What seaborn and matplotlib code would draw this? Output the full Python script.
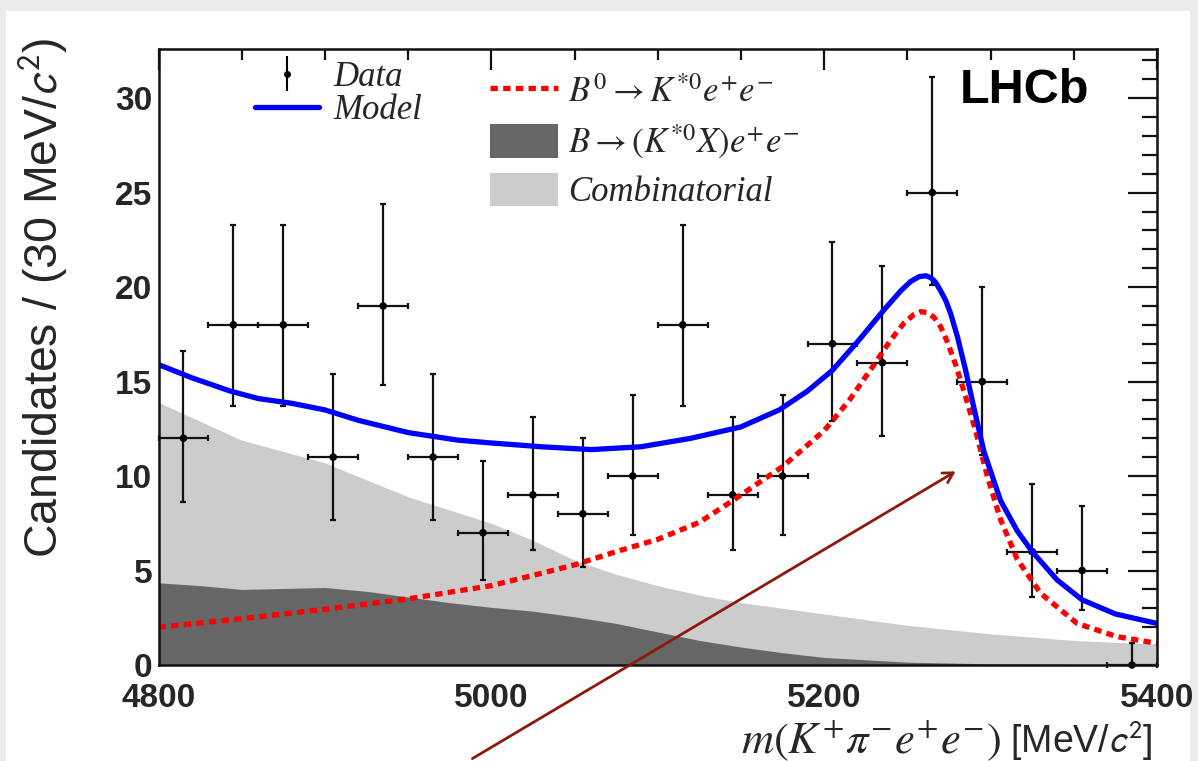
import numpy as np
import pandas as pd
import matplotlib
matplotlib.use("Agg")
import matplotlib.pyplot as plt
import seaborn as sns
from matplotlib.lines import Line2D
from matplotlib.patches import Patch, Rectangle, FancyArrowPatch
from matplotlib.ticker import MultipleLocator

# ---------------- data ----------------
bin_centers = [4815, 4845, 4875, 4905, 4935, 4965, 4995, 5025, 5055, 5085,
               5115, 5145, 5175, 5205, 5235, 5265, 5295, 5325, 5355, 5385]
counts = [12, 18, 18, 11, 19, 11, 7, 9, 8, 10, 18, 9, 10, 17, 16, 25, 15, 6, 5, 0]
err_lo = [3.4, 4.3, 4.3, 3.3, 4.2, 3.3, 2.5, 2.9, 2.8, 3.1,
          4.3, 2.9, 3.1, 4.1, 3.9, 4.9, 3.9, 2.4, 2.1, 0.0]
err_hi = [4.6, 5.3, 5.3, 4.4, 5.4, 4.4, 3.8, 4.1, 4.0, 4.3,
          5.3, 4.1, 4.3, 5.4, 5.1, 6.1, 5.0, 3.6, 3.4, 1.15]
bin_half = 15

model_x = [4800, 4820, 4843, 4860, 4880, 4900, 4920, 4950, 4980, 5000, 5030, 5060,
           5090, 5120, 5150, 5173, 5190, 5205, 5220, 5236, 5246, 5252, 5257, 5261,
           5264, 5267, 5270, 5273, 5276, 5280, 5285, 5290, 5296, 5306, 5316, 5325,
           5340, 5355, 5375, 5400]
model_y = [15.9, 15.2, 14.5, 14.1, 13.85, 13.5, 12.95, 12.3, 11.9, 11.75, 11.55, 11.4,
           11.55, 12.0, 12.6, 13.5, 14.5, 15.6, 17.1, 18.8, 19.8, 20.3, 20.55, 20.6,
           20.5, 20.25, 19.8, 19.3, 18.6, 17.4, 15.6, 13.6, 11.3, 8.7, 7.1, 6.0,
           4.5, 3.45, 2.7, 2.2]

sig_x = [4800, 4850, 4900, 4950, 5000, 5030, 5050, 5075, 5100, 5125, 5145, 5175,
         5200, 5215, 5230, 5240, 5248, 5254, 5258, 5262, 5266, 5270, 5274, 5279,
         5285, 5291, 5298, 5306, 5316, 5330, 5352, 5376, 5400]
sig_y = [2.0, 2.45, 2.95, 3.5, 4.2, 4.85, 5.3, 6.0, 6.65, 7.55, 8.7, 10.5,
         12.4, 14.0, 15.9, 17.2, 18.1, 18.55, 18.7, 18.65, 18.4, 17.9, 17.1, 15.9,
         14.2, 12.4, 10.0, 7.7, 5.6, 3.8, 2.2, 1.5, 1.15]

bkg_x = [4800, 4825, 4850, 4875, 4900, 4925, 4950, 4975, 5000, 5025, 5050,
         5075, 5100, 5125, 5150, 5175, 5200, 5250, 5300, 5350, 5400]
comb_top = [13.9, 12.9, 11.9, 11.3, 10.7, 9.8, 8.9, 8.2, 7.5, 6.6, 5.55,
            4.8, 4.2, 3.7, 3.3, 3.0, 2.7, 2.1, 1.65, 1.3, 1.1]
partreco_top = [4.35, 4.2, 4.0, 4.05, 4.1, 3.9, 3.6, 3.3, 3.05, 2.85, 2.55,
                2.2, 1.75, 1.3, 0.95, 0.65, 0.4, 0.15, 0.06, 0.03, 0.01]

x_major = [4800, 5000, 5200, 5400]
y_major = [0, 5, 10, 15, 20, 25, 30]

labels = ["Data", "Model", r"$B^{0}\rightarrow K^{*0}e^{+}e^{-}$",
          r"$B\rightarrow(K^{*0}X)e^{+}e^{-}$", "Combinatorial"]

# ---------------- style ----------------
sns.set_style("white")
plt.rcParams['font.family'] = ['Liberation Sans', 'DejaVu Sans']
plt.rcParams['mathtext.fontset'] = 'stix'

W, H = 1198, 761
fig = plt.figure(figsize=(W / 100, H / 100), dpi=100, facecolor='#ebebeb')
fig.patches.append(Rectangle((6 / W, 0), 1184 / W, 750 / H, transform=fig.transFigure,
                             facecolor='white', edgecolor='none', zorder=-10))

def fx(px):
    return px / W

def fy(py):
    return 1 - py / H

ax = fig.add_axes([fx(158.5), fy(665), fx(1157) - fx(158.5), fy(49) - fy(665)])
ax.set_facecolor('white')

# backgrounds
ax.fill_between(bkg_x, 0, comb_top, color='#cccccc', lw=0, zorder=1)
ax.fill_between(bkg_x, 0, partreco_top, color='#666666', lw=0, zorder=2)

# data
ax.errorbar(bin_centers, counts, xerr=bin_half, yerr=[err_lo, err_hi], fmt='none',
            ecolor='#111111', elinewidth=1.6, capsize=2.5, capthick=1.6, zorder=3,
            clip_on=False)
sns.scatterplot(x=bin_centers, y=counts, ax=ax, color='black', s=30, edgecolor='none',
                zorder=4, clip_on=False, legend=False)

# curves
sig_df = pd.DataFrame({'m': sig_x, 'y': sig_y})
mod_df = pd.DataFrame({'m': model_x, 'y': model_y})
sns.lineplot(data=sig_df, x='m', y='y', ax=ax, color='#ff0000', lw=3.8,
             linestyle=(0, (1.4, 1.0)), estimator=None, sort=False, zorder=5)
sns.lineplot(data=mod_df, x='m', y='y', ax=ax, color='#0000ff', lw=3.8,
             estimator=None, sort=False, zorder=6)

ax.set_xlim(4800, 5400)
ax.set_ylim(0, 32.6)
ax.set_xlabel('')
ax.set_ylabel('')
ax.set_xticks(x_major)
ax.set_yticks(y_major)
ax.set_xticklabels([str(v) for v in x_major])
ax.set_yticklabels([str(v) for v in y_major])
ax.xaxis.set_minor_locator(MultipleLocator(50))
ax.yaxis.set_minor_locator(MultipleLocator(1))
ax.tick_params(which='both', direction='in', top=True, right=True, width=1.6,
               color='#111111', labelsize=24)
ax.tick_params(axis='y', which='major', length=21, pad=4.5)
ax.tick_params(axis='y', which='minor', length=11)
ax.tick_params(axis='x', which='major', length=15, pad=13)
ax.tick_params(axis='x', which='minor', length=8)
for t in ax.get_xticklabels() + ax.get_yticklabels():
    t.set_fontweight('bold')
for s in ax.spines.values():
    s.set_linewidth(1.8)
    s.set_color('#111111')
    s.set_zorder(10)

# legends
data_proxy = ax.errorbar([np.nan], [np.nan], yerr=[1], fmt='o', color='black', ms=4,
                         elinewidth=1.5, capsize=0)
model_h = Line2D([], [], color='#0000ff', lw=3.8)
leg1 = ax.legend([data_proxy, model_h], labels[:2], loc='upper left',
                 bbox_to_anchor=(fx(255), fy(61)), bbox_transform=fig.transFigure,
                 frameon=False, borderpad=0, borderaxespad=0, handlelength=1.85,
                 handletextpad=0.4, labelspacing=0.0,
                 prop={'family': 'Liberation Serif', 'style': 'italic', 'size': 25})
ax.add_artist(leg1)

sig_h = Line2D([], [], color='#ff0000', lw=3.8, linestyle=(0, (1.4, 1.0)))
part_h = Patch(facecolor='#666666', edgecolor='none')
comb_h = Patch(facecolor='#cccccc', edgecolor='none')
leg2 = ax.legend([sig_h, part_h, comb_h], labels[2:], loc='upper left',
                 bbox_to_anchor=(fx(490), fy(74)), bbox_transform=fig.transFigure,
                 frameon=False, borderpad=0, borderaxespad=0, handlelength=1.95,
                 handleheight=1.1, handletextpad=0.3, labelspacing=0.35,
                 prop={'family': 'Liberation Serif', 'style': 'italic', 'size': 25})

# LHCb
fig.text(fx(960), fy(103), 'LHCb', fontsize=35, fontweight='bold', ha='left',
         va='baseline', color='black')

# axis titles
fig.text(fx(43), fy(38), r'Candidates / (30 MeV/$c^{2}$)', rotation=90, ha='center',
         va='top', fontsize=33.5, math_fontfamily='stixsans')
xl_r = fig.text(fx(1153), fy(741), r' [MeV/$c^{2}$]', ha='right', va='center',
                fontsize=27, math_fontfamily='stixsans')
ax.annotate(r'$m(K^{+}\pi^{-}e^{+}e^{-})$', xy=(0, 0.5), xycoords=xl_r,
            ha='right', va='center', fontsize=32, annotation_clip=False)

# hand-drawn style arrow
arrow = FancyArrowPatch((fx(470), fy(760)), (fx(958), fy(470)), transform=fig.transFigure,
                        arrowstyle='->,head_length=7,head_width=4', color='#8b1a0a',
                        lw=2.0, zorder=20)
fig.patches.append(arrow)

fig.savefig('out.png', dpi=100, facecolor=fig.get_facecolor())
